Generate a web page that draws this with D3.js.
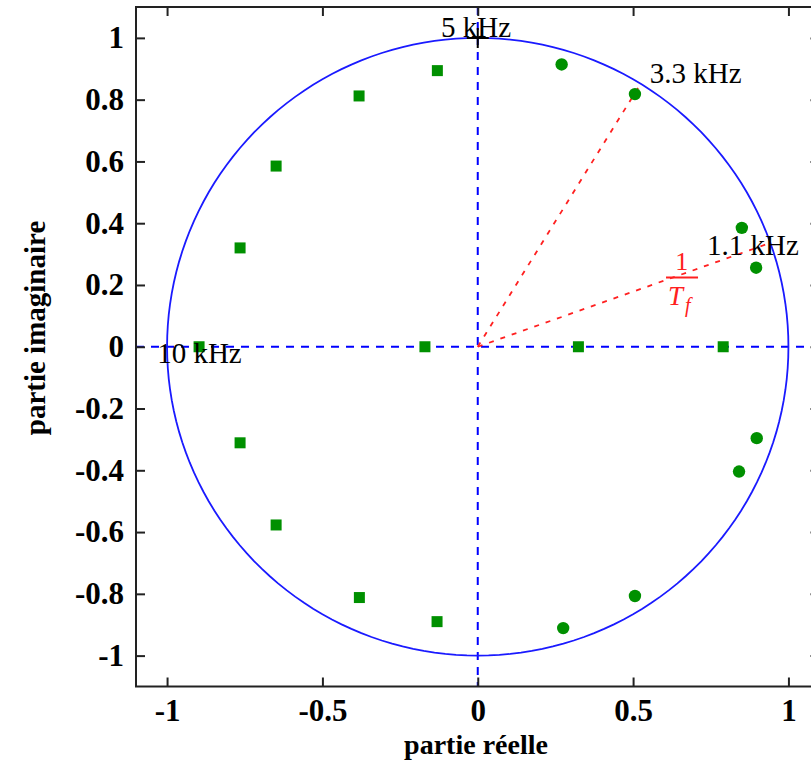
<html>
<head>
  <script src="https://d3js.org/d3.v7.min.js"></script>
  <style>
    body { margin: 0; background: #fff; }
  </style>
</head>
<body>
  <svg id="chart" width="811" height="760"></svg>
  <script>
    // tick values
    const xTicks = [-1, -0.5, 0, 0.5, 1];
    const yTicks = [-1, -0.8, -0.6, -0.4, -0.2, 0, 0.2, 0.4, 0.6, 0.8, 1];

    // green squares (zeros)
    const zeroRe = [0.790, 0.324, -0.170, -0.897, -0.130, -0.382, -0.649, -0.765, -0.765, -0.649, -0.381, -0.131];
    const zeroIm = [0, 0, 0, 0, 0.894, 0.812, 0.585, 0.320, -0.311, -0.577, -0.812, -0.890];

    // green dots (poles)
    const poleRe = [0.270, 0.506, 0.850, 0.896, 0.898, 0.841, 0.506, 0.275];
    const poleIm = [0.914, 0.818, 0.385, 0.256, -0.296, -0.404, -0.807, -0.911];

    // red dashed rays from origin
    const rayRe = [0.516, 0.941];
    const rayIm = [0.838, 0.336];

    // frequency annotations
    const freqText = ["5 kHz", "3.3 kHz", "1.1 kHz", "10 kHz"];
    const freqRe = [-0.118, 0.554, 0.738, -1.032];
    const freqIm = [1.004, 0.854, 0.297, -0.053];

    const svg = d3.select("svg#chart");

    const x = d3.scaleLinear().domain([-1.1, 1.1]).range([136, 819.5]);
    const y = d3.scaleLinear().domain([-1.1, 1.1]).range([686.5, 7]);

    const fmt = d => String(+d.toFixed(1));
    const textFont = "'Liberation Serif', 'Times New Roman', serif";

    // dashed axes through origin
    svg.append("line")
      .attr("x1", x(-1.1)).attr("x2", x(1.1))
      .attr("y1", y(0)).attr("y2", y(0))
      .attr("stroke", "#0000ff").attr("stroke-width", 2)
      .attr("stroke-dasharray", "8,7");
    svg.append("line")
      .attr("x1", x(0)).attr("x2", x(0))
      .attr("y1", y(1.1)).attr("y2", y(-1.1))
      .attr("stroke", "#0000ff").attr("stroke-width", 2)
      .attr("stroke-dasharray", "8,7");

    // unit circle
    const circ = d3.range(0, 361, 2).map(a => [Math.cos(a * Math.PI / 180), Math.sin(a * Math.PI / 180)]);
    svg.append("path")
      .attr("d", d3.line().x(d => x(d[0])).y(d => y(d[1]))(circ))
      .attr("fill", "none")
      .attr("stroke", "#1a1aff")
      .attr("stroke-width", 1.8);

    // red rays
    rayRe.forEach((r, i) => {
      svg.append("line")
        .attr("x1", x(0)).attr("y1", y(0))
        .attr("x2", x(r)).attr("y2", y(rayIm[i]))
        .attr("stroke", "#ff2020").attr("stroke-width", 1.8)
        .attr("stroke-dasharray", "5,7");
    });

    // squares
    const sq = 11;
    zeroRe.forEach((r, i) => {
      svg.append("rect")
        .attr("x", x(r) - sq / 2).attr("y", y(zeroIm[i]) - sq / 2)
        .attr("width", sq).attr("height", sq)
        .attr("fill", "#009000");
    });

    // dots
    poleRe.forEach((r, i) => {
      svg.append("circle")
        .attr("cx", x(r)).attr("cy", y(poleIm[i]))
        .attr("r", 6.2)
        .attr("fill", "#009000");
    });

    // black plus at (0,1)
    svg.append("path")
      .attr("d", `M${x(0) - 11},${y(1)}H${x(0) + 11}M${x(0)},${y(1) - 10}V${y(1) + 10}`)
      .attr("stroke", "#000").attr("stroke-width", 2);

    // annotations
    freqText.forEach((t, i) => {
      svg.append("text")
        .attr("x", x(freqRe[i])).attr("y", y(freqIm[i]))
        .attr("font-family", textFont)
        .attr("font-size", 29)
        .attr("fill", "#000")
        .text(t);
    });

    // red 1/Tf fraction
    const frac = svg.append("g").attr("fill", "#ff2020").attr("font-family", textFont);
    frac.append("text")
      .attr("x", x(0.657)).attr("y", y(0.248))
      .attr("text-anchor", "middle").attr("font-size", 26)
      .text("1");
    frac.append("line")
      .attr("x1", x(0.606)).attr("x2", x(0.709))
      .attr("y1", y(0.224)).attr("y2", y(0.224))
      .attr("stroke", "#ff2020").attr("stroke-width", 2);
    frac.append("text")
      .attr("x", x(0.612)).attr("y", y(0.135))
      .attr("font-size", 27).attr("font-style", "italic")
      .text("T");
    frac.append("text")
      .attr("x", x(0.667)).attr("y", y(0.112))
      .attr("font-size", 20).attr("font-style", "italic")
      .text("f");

    // frame and axes
    const axisStyle = g => {
      g.select(".domain").remove();
      g.selectAll(".tick line").attr("stroke", "#222").attr("stroke-width", 2);
      g.selectAll(".tick text")
        .attr("font-family", textFont)
        .attr("font-weight", "bold")
        .attr("font-size", 31)
        .attr("fill", "#000");
    };

    svg.append("g")
      .attr("transform", `translate(0,${y(-1.1)})`)
      .call(d3.axisBottom(x).tickValues(xTicks).tickFormat(fmt).tickSizeInner(-9).tickSizeOuter(0).tickPadding(12))
      .call(axisStyle);
    svg.append("g")
      .attr("transform", `translate(0,${y(1.1)})`)
      .call(d3.axisTop(x).tickValues(xTicks).tickFormat("").tickSizeInner(-9).tickSizeOuter(0))
      .call(axisStyle);
    svg.append("g")
      .attr("transform", `translate(${x(-1.1)},0)`)
      .call(d3.axisLeft(y).tickValues(yTicks).tickFormat(fmt).tickSizeInner(-9).tickSizeOuter(0).tickPadding(12))
      .call(axisStyle);
    svg.append("g")
      .attr("transform", `translate(${x(1.1)},0)`)
      .call(d3.axisRight(y).tickValues(yTicks).tickFormat("").tickSizeInner(-9).tickSizeOuter(0))
      .call(axisStyle);

    svg.append("rect")
      .attr("x", x(-1.1)).attr("y", y(1.1))
      .attr("width", x(1.1) - x(-1.1)).attr("height", y(-1.1) - y(1.1))
      .attr("fill", "none").attr("stroke", "#222").attr("stroke-width", 2);

    // axis titles
    svg.append("text")
      .attr("x", 476).attr("y", 754)
      .attr("text-anchor", "middle")
      .attr("font-family", textFont)
      .attr("font-weight", "bold")
      .attr("font-size", 28)
      .text("partie réelle");
    svg.append("text")
      .attr("transform", "translate(45,328) rotate(-90)")
      .attr("text-anchor", "middle")
      .attr("font-family", textFont)
      .attr("font-weight", "bold")
      .attr("font-size", 29)
      .text("partie imaginaire");
  </script>
</body>
</html>
